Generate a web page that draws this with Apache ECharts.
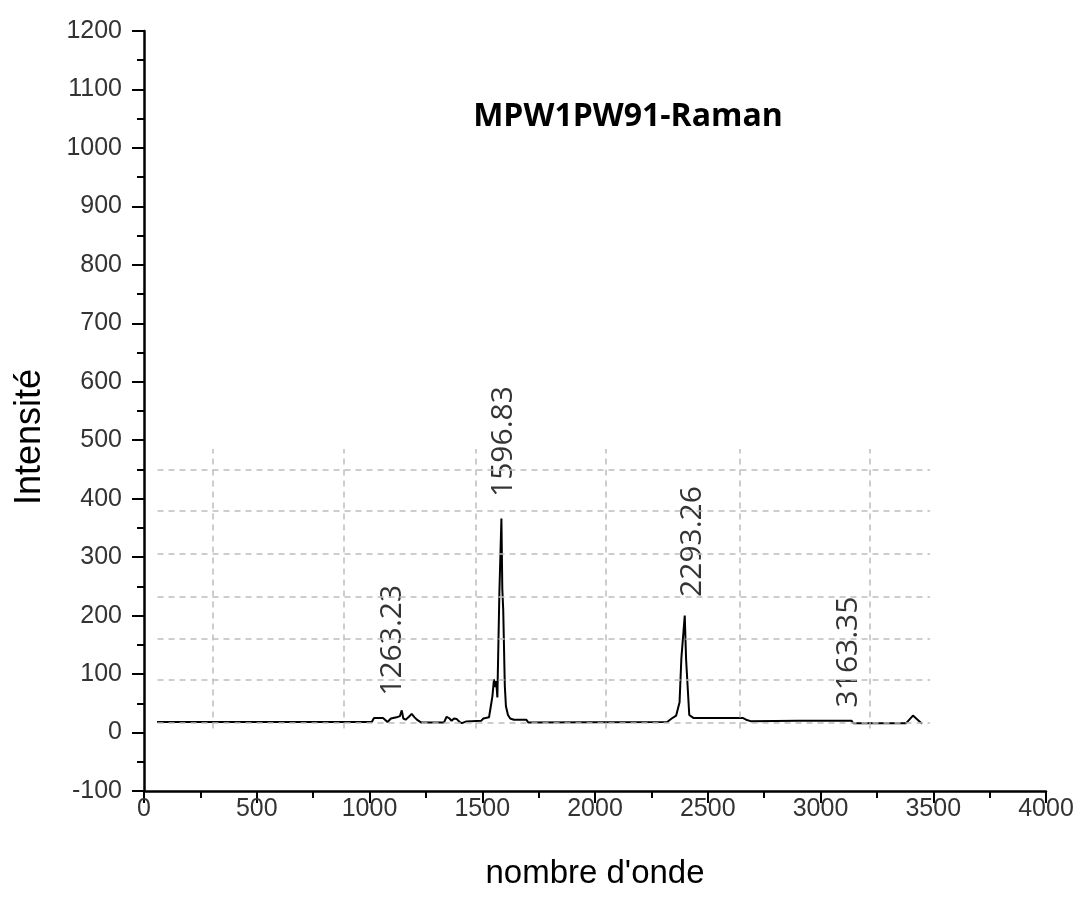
<!DOCTYPE html>
<html><head><meta charset="utf-8">
<script src="https://cdn.jsdelivr.net/npm/echarts@6/dist/echarts.min.js"></script>
<style>html,body{margin:0;padding:0;background:#fff}#c{width:1080px;height:905px}</style>
</head><body><div id="c"></div>
<script>
// Raman spectrum (wavenumber, intensity)
const wavenumbers = [58,1010,1020,1060,1080,1095,1120,1135,1143,1150,1160,1175,1187,1200,1210,1230,1330,1342,1355,1364,1375,1387,1400,1410,1430,1495,1505,1530,1538,1545,1552,1557,1562,1567,1576,1585,1589,1593,1600,1605,1614,1624,1640,1695,1705,2320,2340,2360,2375,2383,2391,2398,2404,2410,2418,2436,2655,2670,2690,2900,3138,3145,3380,3410,3450];
const intensities = [18,18,25,25,18,24,26,28,38,24,22,27,32,26,22,17,17,27,24,20,24,23,18,16,19,20,24,26,45,62,91,78,88,60,240,366,245,210,80,45,30,24,22,22,17,18,24,29,52,127,130,200,125,122,30,25,25,22,19.5,20,20,16,16,29,15];

// Peak annotations
const peakLabels = ['1263.23','1596.83','2293.26','3163.35'];
const peakLabelX = [1100,1595,2430,3122];
const peakLabelY = [63,403,232,43];

// Overlaid dashed grid
const dashedGridX = [306,887,1472,2049,2643,3220];
const dashedGridY = [17,91,160,233,305,379,449];
const dashedXRange = [60,3486];
const dashedYRange = [7,485];

const title = 'MPW1PW91-Raman';
const xName = "nombre d'onde";
const yName = 'Intensité';

const spectrum = wavenumbers.map((w,i)=>[w,intensities[i]]);
const peaks = peakLabels.map((t,i)=>[peakLabelX[i],peakLabelY[i]]);
const gridLines = [];
dashedGridX.forEach(x=>gridLines.push([{coord:[x,dashedYRange[0]]},{coord:[x,dashedYRange[1]]}]));
dashedGridY.forEach(y=>gridLines.push([{coord:[dashedXRange[0],y]},{coord:[dashedXRange[1],y]}]));

const chart = echarts.init(document.getElementById('c'), null, {renderer:'canvas'});
const tickFont = {fontFamily:'Liberation Sans, Arial, sans-serif', fontSize:25, color:'#333', formatter:v=>String(v)};
chart.setOption({
  animation:false,
  backgroundColor:'#fff',
  grid:{left:144,right:34,top:31,bottom:114,containLabel:false,outerBoundsMode:'none'},
  graphic:[
    {type:'text',x:628,y:117,style:{text:title,fontFamily:'Open Sans, sans-serif',fontWeight:'bold',fontSize:32,fill:'#000',textAlign:'center',textVerticalAlign:'middle'}},
    {type:'text',x:30,y:437,rotation:Math.PI/2,style:{text:yName,fontFamily:'Liberation Sans, Arial, sans-serif',fontSize:36,fill:'#000',textAlign:'center',textVerticalAlign:'middle'}}
  ],
  xAxis:{type:'value',min:0,max:4000,interval:500,name:xName,nameLocation:'middle',nameGap:66,
    nameTextStyle:{fontFamily:'Liberation Sans, Arial, sans-serif',fontSize:33,color:'#000'},
    axisLine:{onZero:false,lineStyle:{color:'#000',width:2.5}},
    axisTick:{show:true,inside:false,length:12,lineStyle:{color:'#000',width:2}},
    minorTick:{show:true,splitNumber:2,length:7,lineStyle:{color:'#000',width:2}},
    splitLine:{show:false},
    axisLabel:Object.assign({margin:6},tickFont)},
  yAxis:{type:'value',min:-100,max:1200,interval:100,
    axisLine:{onZero:false,lineStyle:{color:'#000',width:2.5}},
    axisTick:{show:true,inside:false,length:12,lineStyle:{color:'#000',width:2}},
    minorTick:{show:true,splitNumber:2,length:7,lineStyle:{color:'#000',width:2}},
    splitLine:{show:false},
    axisLabel:Object.assign({margin:22},tickFont)},
  series:[
    {type:'line',data:[],z:1,silent:true,
      markLine:{silent:true,symbol:'none',animation:false,label:{show:false},
        lineStyle:{color:'#bdbdbd',type:[6,5],width:1.5},data:gridLines}},
    {type:'line',data:spectrum,z:3,showSymbol:false,symbol:'none',lineStyle:{color:'#000',width:2}},
    {type:'scatter',data:peaks,z:4,symbolSize:0,silent:true,
      label:{show:true,position:[0,0],rotate:90,align:'left',verticalAlign:'middle',
        fontFamily:'Open Sans, sans-serif',fontSize:30,color:'#000',
        formatter:p=>peakLabels[p.dataIndex]}}
  ]
});
</script></body></html>
